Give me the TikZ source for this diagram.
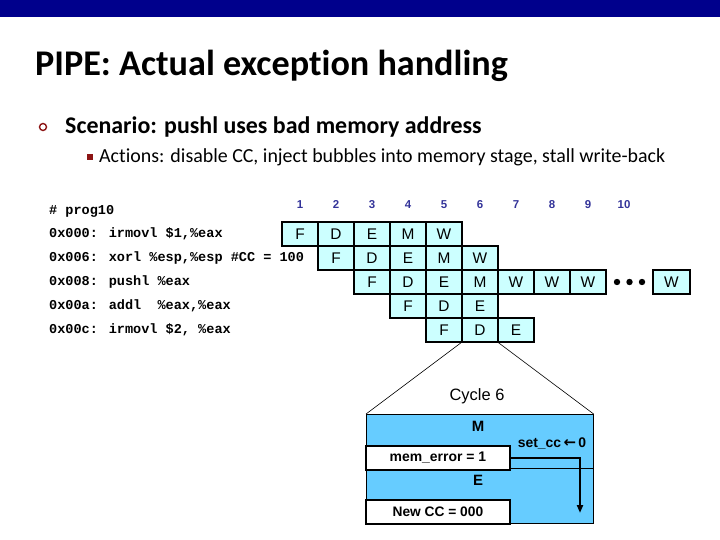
\documentclass[tikz,border=0pt]{standalone}
\usepackage{fontspec}
\setmainfont{Liberation Sans}
\newfontfamily\slidefont[Ligatures=NoCommon]{Carlito}
\newfontfamily\codefont{Liberation Mono}
\newfontfamily\arrowfont{DejaVu Sans}
\usetikzlibrary{arrows.meta}
\definecolor{barblue}{RGB}{0,0,140}
\definecolor{bulletred}{RGB}{140,20,20}
\definecolor{cellcyan}{RGB}{204,255,255}
\definecolor{stageblue}{RGB}{102,204,255}
\definecolor{cyclenum}{RGB}{51,51,153}
\tikzset{
	stagecell/.style={fill=cellcyan,minimum width=36bp,minimum height=24bp,inner sep=0pt,font=\fontsize{15.5}{15.5}\selectfont},
	cellborder/.style={draw,line width=2.1bp},
	codeline/.style={anchor=west,inner sep=0pt,font=\codefont\bfseries\fontsize{13.6}{14}\selectfont},
	cyclelabel/.style={text=cyclenum,font=\bfseries\fontsize{11.5}{11.5}\selectfont,inner sep=0pt},
	signalbox/.style={draw,line width=1.8bp,fill=white,minimum width=144bp,minimum height=24bp,inner sep=0pt,font=\bfseries\fontsize{14}{14}\selectfont}
}
\begin{document}
\begin{tikzpicture}[x=1bp,y=-1bp]
		\useasboundingbox (0,0) rectangle (720,540);
		\fill[barblue] (0,0) rectangle (720,17);
		\node[anchor=base west,inner sep=0pt,font=\slidefont\bfseries\fontsize{36.3}{36}\selectfont] (title) at (35,76) {PIPE: Actual exception handling};
		\node[draw=bulletred,circle,line width=1.4bp,inner sep=0pt,minimum size=7bp] (bul1) at (43,127) {};
		\node[anchor=west,inner sep=0pt,font=\slidefont\bfseries\fontsize{24}{24}\selectfont] (scenario) at (65,127) {Scenario: pushl uses bad memory address};
		\node[fill=bulletred,inner sep=0pt,minimum size=6bp] (bul2) at (90,157) {};
		\node[anchor=west,inner sep=0pt,font=\slidefont\fontsize{20}{20}\selectfont] (actions) at (99,157) {Actions: disable CC, inject bubbles into memory stage, stall write-back};
		% program listing
		\node[codeline] (prog) at (49,211) {\# prog10};
		\node[codeline] (i1) at (49,234) {0x000: irmovl \$1,\%eax};
		\node[codeline] (i2) at (49,258) {0x006: xorl \%esp,\%esp \#CC = 100};
		\node[codeline] (i3) at (49,282) {0x008: pushl \%eax};
		\node[codeline] (i4) at (49,306) {0x00a: addl\ \ \%eax,\%eax};
		\node[codeline] (i5) at (49,330) {0x00c: irmovl \$2, \%eax};
		% cycle numbers
		\foreach\c in {1,...,10} {
			\node[cyclelabel] (n\c) at (300+36*\c-36,205) {\c};
		}
		% pipeline cells
		\foreach\s [count=\c] in {F,D,E,M,W} {
			\node[stagecell] (a\c) at (264+36*\c,234) {\s};
		}
		\foreach\s [count=\c] in {F,D,E,M,W} {
			\node[stagecell] (b\c) at (300+36*\c,258) {\s};
		}
		\foreach\s [count=\c] in {F,D,E,M,W,W,W} {
			\node[stagecell] (c\c) at (336+36*\c,282) {\s};
		}
		\node[stagecell] (clast) at (671.5,282) {W};
		\foreach\s [count=\c] in {F,D,E} {
			\node[stagecell] (d\c) at (372+36*\c,306) {\s};
		}
		\foreach\s [count=\c] in {F,D,E} {
			\node[stagecell] (e\c) at (408+36*\c,330) {\s};
		}
		\foreach\r/\k in {a/5,b/5,c/7,d/3,e/3} {
			\foreach\c in {1,...,\k} {
				\draw[cellborder] (\r\c.north west) rectangle (\r\c.south east);
			}
		}
		\draw[cellborder] (clast.north west) rectangle (clast.south east);
		\foreach\x in {617,629.5,642} {
			\fill (\x,282) circle (3.2bp);
		}
		% cycle 6 detail
		\node[font=\fontsize{16.5}{16.5}\selectfont,inner sep=0pt] (cyc) at (477,396) {Cycle 6};
		\node[draw,line width=0.6bp,fill=stageblue,minimum width=227bp,minimum height=54bp,inner sep=0pt,anchor=north west] (mstage) at (366,414) {};
		\node[draw,line width=0.6bp,fill=stageblue,minimum width=227bp,minimum height=55bp,inner sep=0pt,anchor=north west] (estage) at (366,468) {};
		\node[font=\bfseries\fontsize{15}{15}\selectfont,inner sep=0pt] (mlab) at (478,426) {M};
		\node[font=\bfseries\fontsize{15}{15}\selectfont,inner sep=0pt] (elab) at (478,480) {E};
		\node[signalbox,anchor=north west] (memerr) at (365,445) {mem\_error = 1};
		\node[signalbox,anchor=north west,font=\bfseries\fontsize{13.8}{13.8}\selectfont] (newcc) at (365,499) {New CC = 000};
		\node[font=\bfseries\fontsize{14}{14}\selectfont,inner sep=0pt] (setcc) at (552,443) {set\_cc\,{\arrowfont\bfseries\fontsize{15}{12}\selectfont ←}\,0};
		\coordinate (ccend) at (580,513);
		\draw[line width=0.6bp] (e2.south west)--(mstage.north west);
		\draw[line width=0.6bp] (e3.south west)--(mstage.north east);
		\draw[line width=2.4bp,-{Triangle[length=8bp,width=6bp]}] (memerr.east) -| (ccend);
	\end{tikzpicture}
\end{document}
